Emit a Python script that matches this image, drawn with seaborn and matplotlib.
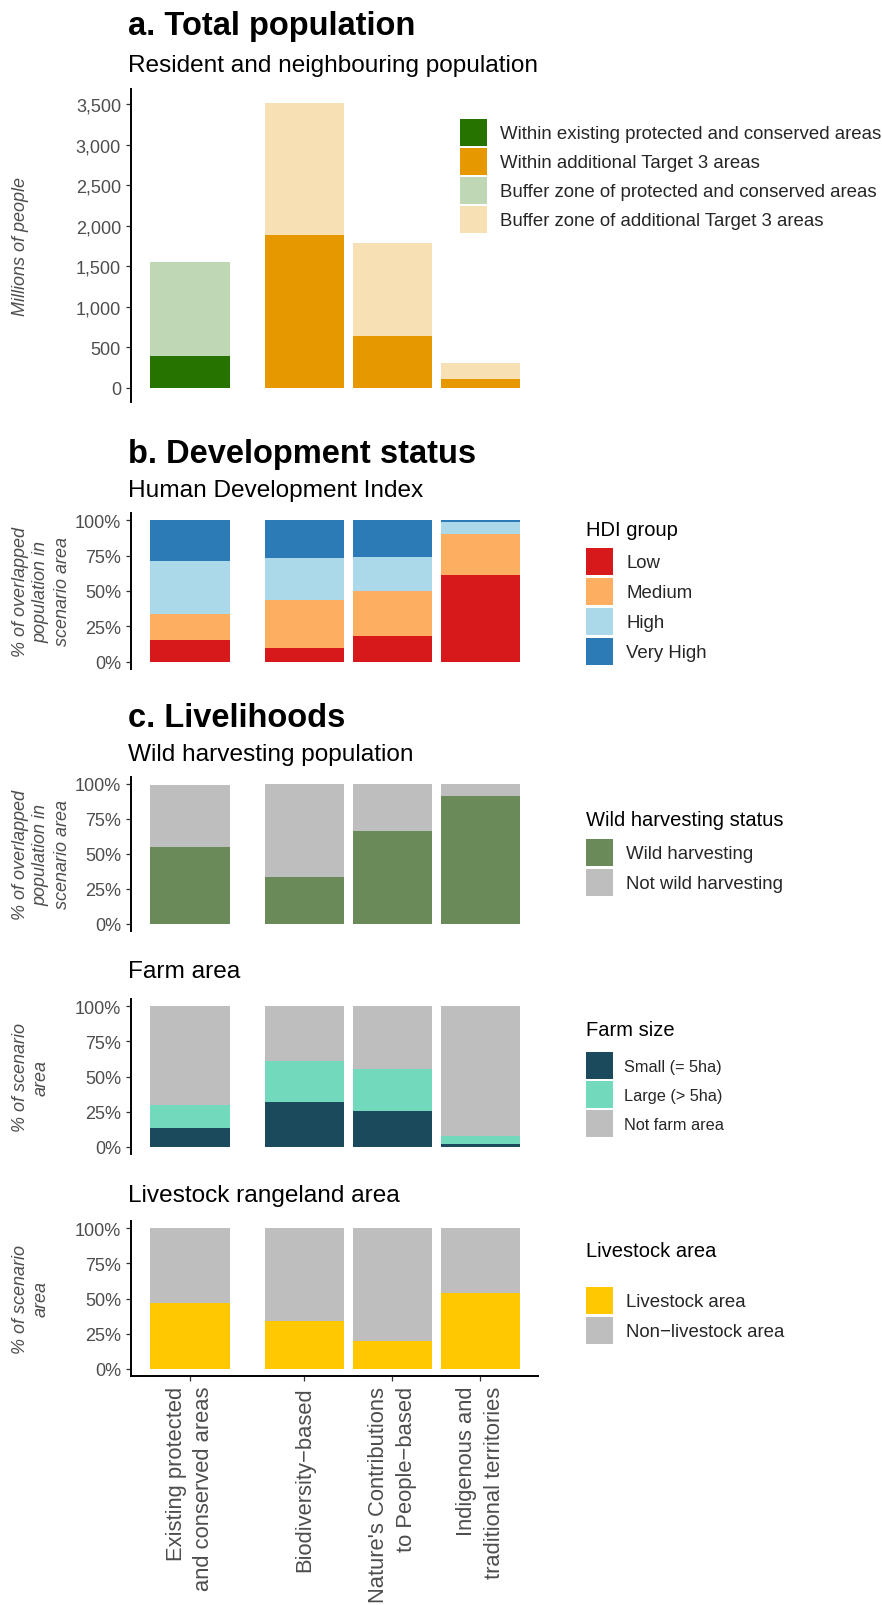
import numpy as np
import pandas as pd
import seaborn as sns
import matplotlib.pyplot as plt
from matplotlib.patches import Patch

sns.set_theme(style="white")
plt.rcParams["font.family"] = ["Liberation Sans", "DejaVu Sans"]

# --- data ---
scenarios = ["Existing protected\nand conserved areas",
             "Biodiversity\u2212based",
             "Nature's Contributions\nto People\u2212based",
             "Indigenous and\ntraditional territories"]

# a. total population, millions of people
pop_within_existing = [393, 0, 0, 0]
pop_within_target3 = [0, 1889, 642, 108]
pop_buffer_existing = [1156, 0, 0, 0]
pop_buffer_target3 = [0, 1623, 1139, 198]
pop_labels = ["Within existing protected and conserved areas",
              "Within additional Target 3 areas",
              "Buffer zone of protected and conserved areas",
              "Buffer zone of additional Target 3 areas"]

# b. HDI groups, % of overlapped population
hdi_low = [15.8, 10.1, 18.6, 61.1]
hdi_medium = [17.7, 33.3, 31.4, 29.0]
hdi_high = [37.5, 29.7, 23.8, 8.5]
hdi_very_high = [29.0, 26.9, 26.2, 1.4]
hdi_labels = ["Low", "Medium", "High", "Very High"]

# c. livelihoods
wild_yes = [54.8, 33.6, 66.2, 91.3]
wild_no = [44.7, 66.4, 33.8, 8.7]
wild_labels = ["Wild harvesting", "Not wild harvesting"]

farm_small = [13.7, 32.1, 25.7, 1.9]
farm_large = [16.3, 29.2, 29.7, 6.1]
farm_none = [70.0, 38.7, 44.6, 92.0]
farm_labels = ["Small (= 5ha)", "Large (> 5ha)", "Not farm area"]

livestock_yes = [47.0, 33.8, 19.6, 54.1]
livestock_no = [53.0, 66.2, 80.4, 45.9]
livestock_labels = ["Livestock area", "Non\u2212livestock area"]

# --- layout ---
W, H = 882, 1606
fig = plt.figure(figsize=(W / 100, H / 100), dpi=100)
xpos = [0, 1.3, 2.3, 3.3]  # gap after the existing areas bar
GREY = "#4D4D4D"


def px_axes(top, bottom, left=131, right=538):
    return fig.add_axes([left / W, 1 - bottom / H, (right - left) / W, (bottom - top) / H])


def stacked(ax, layers, colors):
    # draw cumulative totals from the top segment down so lower ones sit in front
    cum = np.cumsum(np.array(layers, dtype=float), axis=0)
    for vals, col in zip(cum[::-1], colors[::-1]):
        df = pd.DataFrame({"x": xpos, "y": vals})
        sns.barplot(data=df, x="x", y="y", color=col, native_scale=True, width=0.9,
                    saturation=1, errorbar=None, linewidth=0, ax=ax)
    ax.set_xlim(-0.67, 3.955)
    ax.set_xlabel("")
    ax.set_ylabel("")
    sns.despine(ax=ax, bottom=True)
    ax.spines["left"].set_color("black")
    ax.spines["left"].set_linewidth(1.4)
    ax.tick_params(axis="y", left=True, length=3.6, width=0.9, color="#333333",
                   pad=3.6, labelsize=13, labelcolor=GREY)
    ax.tick_params(axis="x", bottom=False, labelbottom=False)


def pct_axis(ax):
    ax.set_ylim(-5, 105)
    ax.set_yticks([0, 25, 50, 75, 100], labels=["0%", "25%", "50%", "75%", "100%"])


def ylab(text, top, bottom):
    fig.text(12 / W, 1 - (top + bottom) / 2 / H, text, rotation=90, ha="left", va="center",
             multialignment="center", fontsize=13, style="italic", color=GREY, linespacing=1.3)


def heading(text, y, bold=True):
    fig.text(128 / W, 1 - y / H, text, ha="left", va="baseline",
             fontsize=23.5 if bold else 17.6, fontweight="bold" if bold else "normal", color="black")


def legend(labels, colors, x, top, fs=13.4, gap=2, title=None, title_y=None):
    fs_px = fs * 100 / 72
    key = 27 / fs_px
    # matplotlib shrinks patch keys by the handle descent; compensate so keys are 27 px tall
    hh = (key - 0.245) / 0.65
    handles = [Patch(facecolor=c, edgecolor="none") for c in colors]
    fig.legend(handles, labels, loc="upper left", bbox_to_anchor=(x / W, 1 - top / H),
               frameon=False, borderpad=0, borderaxespad=0, fontsize=fs,
               handlelength=key, handleheight=hh, handletextpad=0.7,
               labelspacing=gap / fs_px)
    if title:
        fig.text(x / W, 1 - title_y / H, title, ha="left", va="center", fontsize=14.5, color="black")


# a. Total population
heading("a. Total population", 35)
heading("Resident and neighbouring population", 72, bold=False)
ax_a = px_axes(90, 403)
stacked(ax_a, [pop_within_existing, pop_within_target3, pop_buffer_existing, pop_buffer_target3],
        ["#267300", "#E69800", "#BFD7B5", "#F7E0B3"])
ax_a.set_ylim(-176, 3688)
ax_a.set_yticks(range(0, 3501, 500), labels=[f"{v:,}" for v in range(0, 3501, 500)])
ylab("Millions of people", 90, 403)
legend(pop_labels, ["#267300", "#E69800", "#BFD7B5", "#F7E0B3"], 460, 120)

# b. Development status
heading("b. Development status", 463)
heading("Human Development Index", 497, bold=False)
ax_b = px_axes(514, 670)
hdi_colors = ["#D7191C", "#FDAE61", "#ABD9E9", "#2C7BB6"]
stacked(ax_b, [hdi_low, hdi_medium, hdi_high, hdi_very_high], hdi_colors)
pct_axis(ax_b)
ylab("% of overlapped\npopulation in\nscenario area", 514, 670)
legend(hdi_labels, hdi_colors, 586, 549, gap=3, title="HDI group", title_y=530)

# c. Livelihoods
heading("c. Livelihoods", 727)
heading("Wild harvesting population", 761, bold=False)
ax_c1 = px_axes(778, 932)
wild_colors = ["#6A8A5A", "#BEBEBE"]
stacked(ax_c1, [wild_yes, wild_no], wild_colors)
pct_axis(ax_c1)
ylab("% of overlapped\npopulation in\nscenario area", 778, 932)
legend(wild_labels, wild_colors, 586, 840, gap=3, title="Wild harvesting status", title_y=820)

heading("Farm area", 978, bold=False)
ax_c2 = px_axes(1000, 1155)
farm_colors = ["#1A4A5C", "#72D9BC", "#BEBEBE"]
stacked(ax_c2, [farm_small, farm_large, farm_none], farm_colors)
pct_axis(ax_c2)
ylab("% of scenario\narea", 1000, 1155)
legend(farm_labels, farm_colors, 586, 1053, fs=11.7, title="Farm size", title_y=1031)

heading("Livestock rangeland area", 1202, bold=False)
ax_c3 = px_axes(1222, 1377)
live_colors = ["#FFC800", "#BEBEBE"]
stacked(ax_c3, [livestock_yes, livestock_no], live_colors)
pct_axis(ax_c3)
ylab("% of scenario\narea", 1222, 1377)
legend(livestock_labels, live_colors, 586, 1288, gap=3, title="Livestock area", title_y=1252)

# bottom axis with scenario names
ax_c3.spines["bottom"].set_visible(True)
ax_c3.spines["bottom"].set_color("black")
ax_c3.spines["bottom"].set_linewidth(1.4)
ax_c3.set_xticks(xpos)
ax_c3.set_xticklabels(scenarios, rotation=90, ha="center", va="top", multialignment="right",
                      fontsize=15.8, color=GREY, linespacing=1.4)
ax_c3.tick_params(axis="x", bottom=True, labelbottom=True, length=3.6, width=0.9,
                  color="#333333", pad=3.6)

fig.savefig("out.png", dpi=100)
